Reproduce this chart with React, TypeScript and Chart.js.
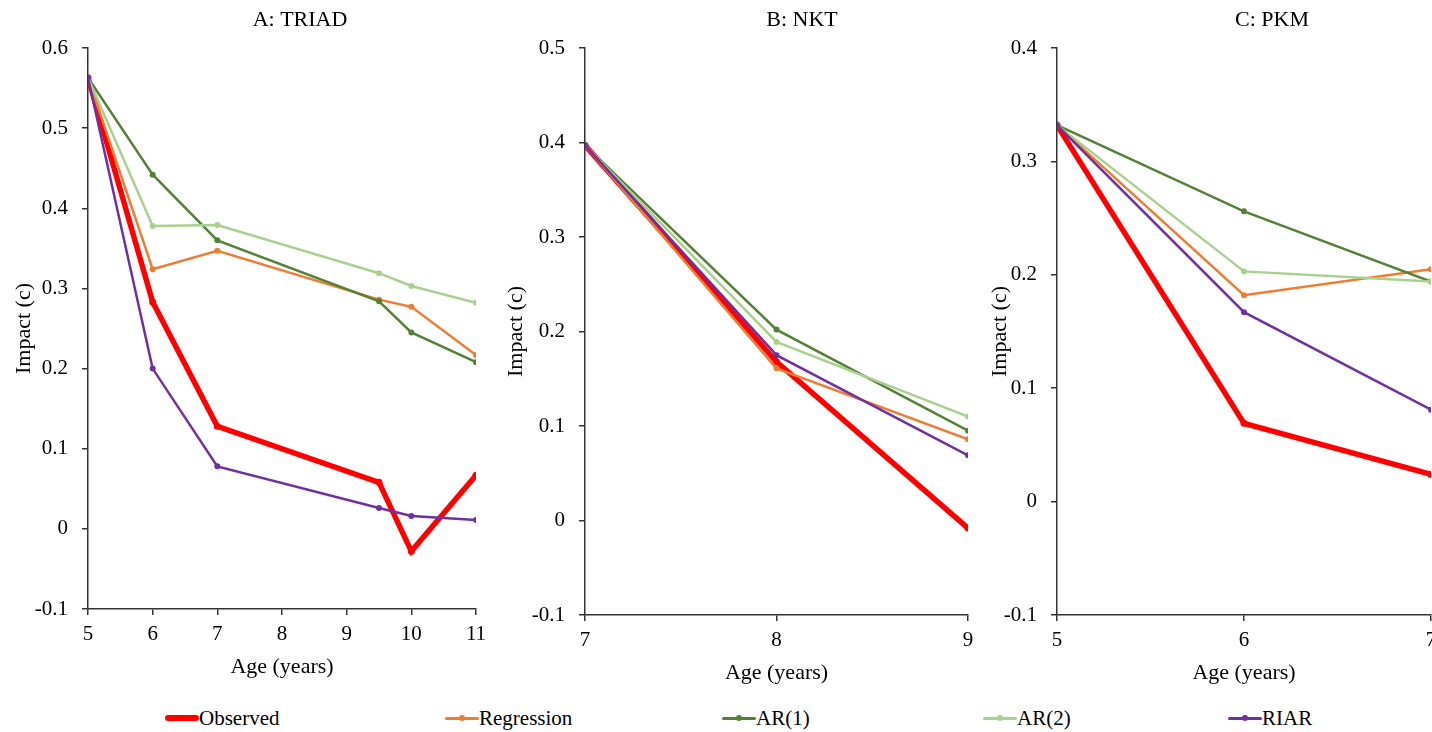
import React, { useEffect, useRef } from "react";
import { Chart, registerables } from "chart.js";
Chart.register(...registerables);

// ---------- data ----------
const seriesNames = ["Observed", "Regression", "AR(1)", "AR(2)", "RIAR"];
const seriesColors = ["#FF0000", "#ED7D31", "#548235", "#A9D18E", "#7030A0"];

const agesA = [5, 6, 7, 9.5, 10, 11];
const triadObserved = [0.563, 0.283, 0.128, 0.058, -0.028, 0.067];
const triadRegression = [0.563, 0.324, 0.347, 0.286, 0.277, 0.217];
const triadAR1 = [0.563, 0.442, 0.36, 0.284, 0.245, 0.208];
const triadAR2 = [0.563, 0.378, 0.379, 0.319, 0.303, 0.282];
const triadRIAR = [0.563, 0.2, 0.078, 0.026, 0.016, 0.011];
const triadXRange = [5, 11];
const triadYRange = [-0.1, 0.6];

const agesB = [7, 8, 9];
const nktObserved = [0.397, 0.168, -0.008];
const nktRegression = [0.397, 0.161, 0.086];
const nktAR1 = [0.397, 0.202, 0.095];
const nktAR2 = [0.397, 0.189, 0.11];
const nktRIAR = [0.397, 0.175, 0.069];
const nktXRange = [7, 9];
const nktYRange = [-0.1, 0.5];

const agesC = [5, 6, 7];
const pkmObserved = [0.332, 0.069, 0.024];
const pkmRegression = [0.332, 0.182, 0.205];
const pkmAR1 = [0.332, 0.256, 0.194];
const pkmAR2 = [0.332, 0.203, 0.194];
const pkmRIAR = [0.332, 0.167, 0.081];
const pkmXRange = [5, 7];
const pkmYRange = [-0.1, 0.4];

const panelTitles = ["A: TRIAD", "B: NKT", "C: PKM"];
const xAxisTitle = "Age (years)";
const yAxisTitle = "Impact (c)";

// ---------- layout ----------
const FONT = "'Liberation Serif', 'Times New Roman', serif";

type Panel = {
  title: string;
  ages: number[];
  series: number[][];
  xRange: number[];
  yRange: number[];
  left: number;
  width: number;
  height: number;
  yAxisWidth: number;
  rightWidth: number;
  xAxisHeight: number;
};

const panels: Panel[] = [
  {
    title: panelTitles[0],
    ages: agesA,
    series: [triadObserved, triadRegression, triadAR1, triadAR2, triadRIAR],
    xRange: triadXRange,
    yRange: triadYRange,
    left: 0,
    width: 600,
    height: 684,
    yAxisWidth: 88,
    rightWidth: 124,
    xAxisHeight: 75,
  },
  {
    title: panelTitles[1],
    ages: agesB,
    series: [nktObserved, nktRegression, nktAR1, nktAR2, nktRIAR],
    xRange: nktXRange,
    yRange: nktYRange,
    left: 492,
    width: 620,
    height: 690,
    yAxisWidth: 93,
    rightWidth: 144,
    xAxisHeight: 75,
  },
  {
    title: panelTitles[2],
    ages: agesC,
    series: [pkmObserved, pkmRegression, pkmAR1, pkmAR2, pkmRIAR],
    xRange: pkmXRange,
    yRange: pkmYRange,
    left: 976,
    width: 592,
    height: 690,
    yAxisWidth: 81,
    rightWidth: 137,
    xAxisHeight: 75,
  },
];

const legendLefts = [165, 445, 722, 983, 1228];

function formatTick(v: number | string) {
  const r = Math.round(Number(v) * 10) / 10;
  return r === 0 ? "0" : String(r);
}

function makeConfig(p: Panel): any {
  const datasets = p.series.map((vals, i) => ({
    label: seriesNames[i],
    data: p.ages.map((x, j) => ({ x, y: vals[j] })),
    borderColor: seriesColors[i],
    backgroundColor: seriesColors[i],
    borderWidth: i === 0 ? 5.5 : 2.5,
    pointRadius: i === 0 ? 3.5 : 3,
    pointBorderWidth: 0,
    pointHoverRadius: 3,
    tension: 0,
    order: 5 - i,
  }));
  const axisColor = "#333";
  return {
    type: "line",
    data: { datasets },
    options: {
      responsive: false,
      animation: false,
      events: [],
      layout: { padding: 0 },
      plugins: {
        legend: { display: false },
        tooltip: { enabled: false },
        title: {
          display: true,
          text: p.title,
          color: "#000",
          font: { family: FONT, size: 22, weight: "normal" },
          padding: { top: 7, bottom: 14.6 },
        },
      },
      scales: {
        x: {
          type: "linear",
          min: p.xRange[0],
          max: p.xRange[1],
          ticks: {
            stepSize: 1,
            color: "#000",
            font: { family: FONT, size: 21 },
            padding: 7,
            maxRotation: 0,
          },
          grid: {
            display: true,
            drawOnChartArea: false,
            drawTicks: true,
            tickLength: 6,
            color: axisColor,
            lineWidth: 1.5,
          },
          border: { display: true, color: axisColor, width: 1.5 },
          title: {
            display: true,
            text: xAxisTitle,
            color: "#000",
            font: { family: FONT, size: 22 },
            padding: { top: 0, bottom: 4 },
          },
          afterFit: (s: any) => {
            s.height = p.xAxisHeight;
          },
        },
        y: {
          type: "linear",
          position: "left",
          min: p.yRange[0],
          max: p.yRange[1],
          ticks: {
            stepSize: 0.1,
            color: "#000",
            font: { family: FONT, size: 21 },
            padding: 14,
            callback: (v: number | string) => formatTick(v),
          },
          grid: {
            display: true,
            drawOnChartArea: false,
            drawTicks: true,
            tickLength: 6,
            color: axisColor,
            lineWidth: 1.5,
          },
          border: { display: true, color: axisColor, width: 1.5 },
          title: {
            display: true,
            text: yAxisTitle,
            color: "#000",
            font: { family: FONT, size: 22 },
            padding: { top: 11, bottom: 0 },
          },
          afterFit: (s: any) => {
            s.width = p.yAxisWidth;
          },
        },
        yRight: {
          type: "linear",
          position: "right",
          display: true,
          grid: { display: false, drawTicks: false },
          border: { display: false },
          ticks: { display: false },
          afterFit: (s: any) => {
            s.width = p.rightWidth;
          },
        },
      },
    },
  };
}

function PanelChart({ p }: { p: Panel }) {
  const ref = useRef<HTMLCanvasElement | null>(null);
  useEffect(() => {
    if (!ref.current) return;
    const chart = new Chart(ref.current, makeConfig(p));
    return () => chart.destroy();
  }, [p]);
  return (
    <canvas
      ref={ref}
      width={p.width}
      height={p.height}
      style={{ position: "absolute", left: p.left, top: 0, width: p.width, height: p.height }}
    />
  );
}

function LegendItem({ i }: { i: number }) {
  const thick = i === 0 ? 6 : 3;
  return (
    <div
      style={{
        position: "absolute",
        left: legendLefts[i],
        top: 705,
        height: 26,
        display: "flex",
        alignItems: "center",
        fontFamily: FONT,
        fontSize: 21,
        color: "#000",
        whiteSpace: "nowrap",
      }}
    >
      <div style={{ position: "relative", width: 34, height: 26 }}>
        <div
          style={{
            position: "absolute",
            left: 0,
            right: 0,
            top: 13 - thick / 2,
            height: thick,
            background: seriesColors[i],
            borderRadius: thick / 2,
          }}
        />
        <div
          style={{
            position: "absolute",
            left: 14,
            top: 10,
            width: 6,
            height: 6,
            borderRadius: 3,
            background: seriesColors[i],
          }}
        />
      </div>
      <span>{seriesNames[i]}</span>
    </div>
  );
}

export default function App() {
  return (
    <div
      style={{
        position: "fixed",
        left: 0,
        top: 0,
        width: 1432,
        height: 732,
        overflow: "hidden",
        background: "#fff",
      }}
    >
      {panels.map((p, k) => (
        <PanelChart key={k} p={p} />
      ))}
      {seriesNames.map((_, i) => (
        <LegendItem key={i} i={i} />
      ))}
    </div>
  );
}
